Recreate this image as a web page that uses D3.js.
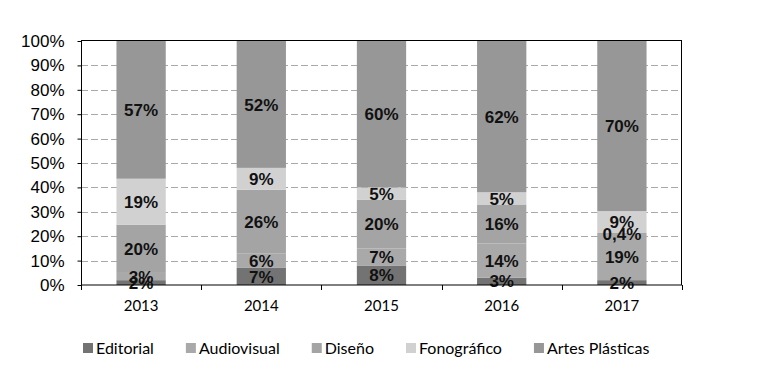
<!DOCTYPE html>
<html>
<head>
<meta charset="utf-8">
<style>
  body { margin: 0; background: #fff; }
  .tick text { font-family: "Liberation Sans", Arial, sans-serif; }
</style>
</head>
<body>
<script src="https://cdn.jsdelivr.net/npm/d3@7"></script>
<script>
var years = ["2013", "2014", "2015", "2016", "2017"];
var series = ["Editorial", "Audiovisual", "Diseño", "Fonográfico", "Artes Plásticas"];
var editorial = [2, 7, 8, 3, 2];
var audiovisual = [3, 6, 7, 14, 19];
var diseno = [20, 26, 20, 16, 0.4];
var fonografico = [19, 9, 5, 5, 9];
var artes = [57, 52, 60, 62, 70];
var labels = [
  ["2%", "7%", "8%", "3%", "2%"],
  ["3%", "6%", "7%", "14%", "19%"],
  ["20%", "26%", "20%", "16%", "0,4%"],
  ["19%", "9%", "5%", "5%", "9%"],
  ["57%", "52%", "60%", "62%", "70%"]
];
var colors = ["#737373", "#a9a9a9", "#a4a4a4", "#d1d1d1", "#979797"];
var yTicks = [0, 0.1, 0.2, 0.3, 0.4, 0.5, 0.6, 0.7, 0.8, 0.9, 1];

var rows = years.map(function(y, i) {
  return { year: y, "Editorial": editorial[i], "Audiovisual": audiovisual[i],
    "Diseño": diseno[i], "Fonográfico": fonografico[i], "Artes Plásticas": artes[i] };
});

var W = 784, H = 371;
var m = { left: 81, right: 102, top: 41, bottom: 86 };

var svg = d3.select("body").append("svg")
  .attr("width", W).attr("height", H);

var x = d3.scaleBand().domain(years).range([m.left, W - m.right]).paddingInner(0.59).paddingOuter(0.295);
var xb = d3.scaleBand().domain(years).range([m.left, W - m.right]);
var y = d3.scaleLinear().domain([0, 1]).range([H - m.bottom, m.top]);

// grid
svg.append("g").selectAll("line").data(yTicks.slice(1, -1)).enter().append("line")
  .attr("x1", m.left).attr("x2", W - m.right)
  .attr("y1", function(d) { return Math.round(y(d)) + 0.5; })
  .attr("y2", function(d) { return Math.round(y(d)) + 0.5; })
  .attr("stroke", "#a8a8a8").attr("stroke-dasharray", "7,3");

var stack = d3.stack().keys(series).offset(d3.stackOffsetExpand);
var layers = stack(rows);

var g = svg.append("g");
layers.forEach(function(layer, si) {
  g.append("g").attr("fill", colors[si]).selectAll("rect").data(layer).enter().append("rect")
    .attr("x", function(d) { return x(d.data.year); })
    .attr("width", x.bandwidth())
    .attr("y", function(d) { return y(d[1]); })
    .attr("height", function(d) { return y(d[0]) - y(d[1]); });
});

layers.forEach(function(layer, si) {
  g.append("g").selectAll("text").data(layer).enter().append("text")
    .attr("x", function(d) { return x(d.data.year) + x.bandwidth() / 2; })
    .attr("y", function(d) { return (y(d[0]) + y(d[1])) / 2; })
    .attr("dy", "0.36em")
    .attr("text-anchor", "middle")
    .attr("font-family", "'Liberation Sans', Arial, sans-serif")
    .attr("font-weight", "bold")
    .attr("font-size", 17)
    .attr("fill", "#111")
    .text(function(d, i) { return labels[si][i]; });
});

// frame
svg.append("rect")
  .attr("x", m.left + 0.5).attr("y", m.top - 0.5)
  .attr("width", W - m.right - m.left - 1).attr("height", H - m.bottom - m.top + 0.5)
  .attr("fill", "none").attr("stroke", "#000");

// y axis
var ya = svg.append("g").attr("transform", "translate(" + (m.left + 0.5) + ",0)")
  .call(d3.axisLeft(y).tickValues(yTicks).tickFormat(d3.format(".0%")).tickSize(4).tickPadding(13));
ya.select(".domain").remove();
ya.selectAll("text").attr("font-size", 17).attr("fill", "#000");

// x axis ticks at boundaries
var bounds = years.map(function(d) { return xb(d); }).concat([W - m.right]);
svg.append("g").selectAll("line").data(bounds).enter().append("line")
  .attr("x1", function(d) { return Math.round(d) + 0.5; })
  .attr("x2", function(d) { return Math.round(d) + 0.5; })
  .attr("y1", H - m.bottom).attr("y2", H - m.bottom + 5)
  .attr("stroke", "#000");

svg.append("g").selectAll("text").data(years).enter().append("text")
  .attr("x", function(d) { return xb(d) + xb.bandwidth() / 2; })
  .attr("y", 306)
  .attr("dy", "0.35em")
  .attr("text-anchor", "middle")
  .attr("font-family", "Lato, 'Open Sans', sans-serif")
  .attr("font-size", 15)
  .attr("fill", "#000")
  .text(function(d) { return d; });

// legend
var lg = svg.append("g").attr("transform", "translate(83,348)");
var lx = 0;
series.forEach(function(s, i) {
  var it = lg.append("g").attr("transform", "translate(" + lx + ",0)");
  it.append("rect").attr("x", 0).attr("y", -5).attr("width", 10).attr("height", 10).attr("fill", colors[i]);
  var t = it.append("text").attr("x", 13).attr("dy", "0.35em")
    .attr("font-family", "Lato, 'Open Sans', sans-serif")
    .attr("font-size", 16).attr("fill", "#000").text(s);
  lx += 13 + t.node().getComputedTextLength() + 32;
});
</script>
</body>
</html>
